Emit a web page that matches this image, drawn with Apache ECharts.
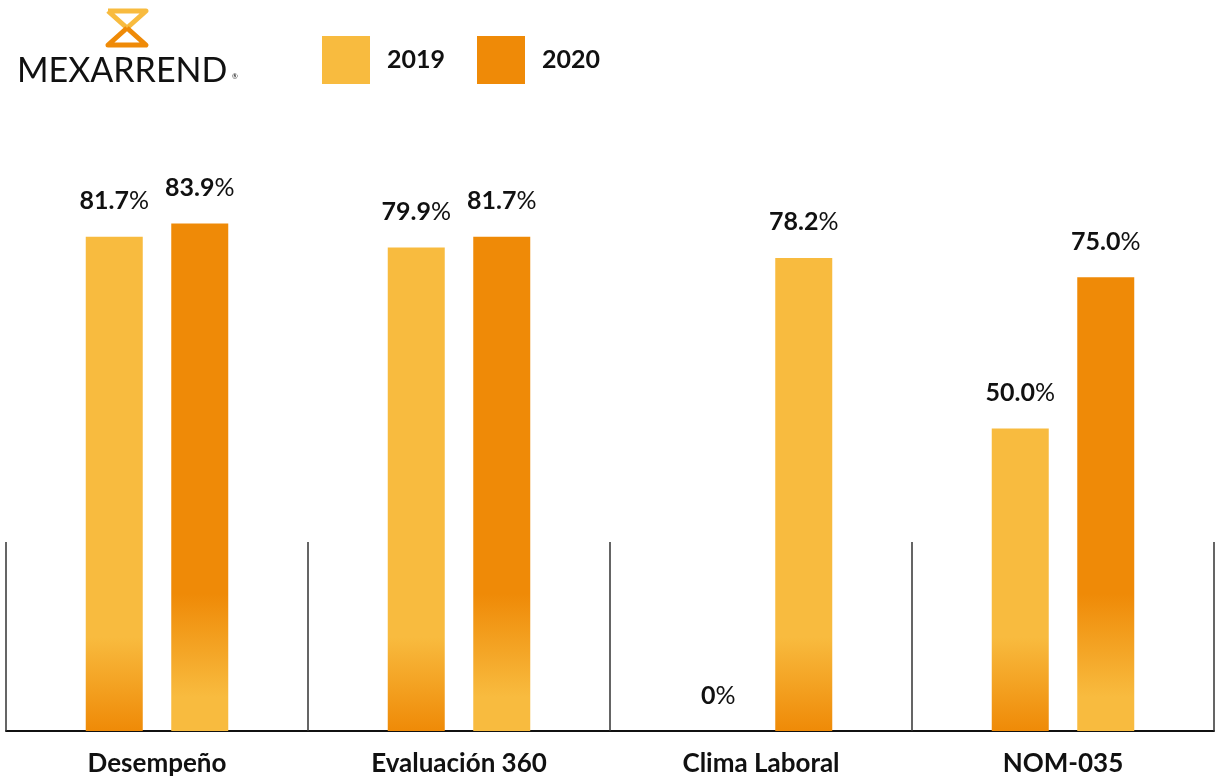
<!DOCTYPE html>
<html>
<head>
<meta charset="utf-8">
<script src="https://cdn.jsdelivr.net/npm/echarts@6/dist/echarts.min.js"></script>
<style>
  html, body { margin: 0; padding: 0; background: #fff; }
  #chart { width: 1232px; height: 780px; }
</style>
</head>
<body>
<div id="chart"></div>
<script>
// datos del gráfico
const categories = ["Desempeño", "Evaluación 360", "Clima Laboral", "NOM-035"];
const values2019 = [81.7, 79.9, 0, 50.0];
const values2020 = [83.9, 81.7, 78.2, 75.0];
const seriesNames = ["2019", "2020"];

const LIGHT = "#f8bb3f";
const ORANGE = "#ef8a07";
const FONT = "Lato";

// degradados en coordenadas globales (pixeles del lienzo)
const grad2019 = new echarts.graphic.LinearGradient(0, 560, 0, 731, [
  { offset: 0, color: LIGHT },
  { offset: 0.45, color: LIGHT },
  { offset: 1, color: ORANGE },
], true);
const grad2020 = new echarts.graphic.LinearGradient(0, 560, 0, 731, [
  { offset: 0, color: ORANGE },
  { offset: 0.2, color: ORANGE },
  { offset: 0.8, color: LIGHT },
  { offset: 1, color: LIGHT },
], true);

const chart = echarts.init(document.getElementById("chart"));

const labelOpt = {
  show: true,
  position: "top",
  distance: 23,
  formatter: (p) => {
    const txt = p.value === 0 ? "0" : p.value.toFixed(1);
    return "{n|" + txt + "}{p|%}";
  },
  rich: {
    n: { fontFamily: FONT, fontWeight: "bold", fontSize: 25, color: "#111" },
    p: { fontFamily: FONT, fontWeight: "normal", fontSize: 25, color: "#111" },
  },
};

const option = {
  backgroundColor: "#fff",
  animation: false,
  grid: { left: 6, right: 18, top: 126, bottom: 49 },
  legend: {
    left: 322,
    top: 36,
    padding: 0,
    itemWidth: 48,
    itemHeight: 48,
    itemGap: 32,
    icon: "rect",
    textStyle: { fontFamily: FONT, fontWeight: "bold", fontSize: 25, color: "#111", padding: [0, 0, 0, 12] },
    data: [
      { name: seriesNames[0], itemStyle: { color: LIGHT } },
      { name: seriesNames[1], itemStyle: { color: ORANGE } },
    ],
  },
  xAxis: {
    type: "category",
    data: categories,
    axisLine: { lineStyle: { color: "#111", width: 2 } },
    axisTick: { show: true, inside: true, length: 189, interval: 0, lineStyle: { color: "#333", width: 1.5 } },
    axisLabel: { margin: 20, fontFamily: FONT, fontWeight: "bold", fontSize: 26, color: "#111" },
  },
  yAxis: {
    type: "value",
    min: 0,
    max: 100,
    show: false,
    splitLine: { show: false },
  },
  graphic: [
    // logo: reloj de arena
    {
      type: "polyline",
      shape: { points: [[108, 11], [146, 11], [127, 28], [108, 11]] },
      style: { stroke: LIGHT, lineWidth: 5, fill: null, lineJoin: "round" },
    },
    {
      type: "polyline",
      shape: { points: [[127, 28], [146, 45], [108, 45], [127, 28]] },
      style: { stroke: ORANGE, lineWidth: 5, fill: null, lineJoin: "round" },
    },
    {
      type: "text",
      left: 17,
      top: 54,
      style: { text: "MEXARREND", fontFamily: FONT, fontSize: 34, fontWeight: "normal", fill: "#111" },
    },
    {
      type: "text",
      left: 232,
      top: 73,
      style: { text: "®", fontFamily: FONT, fontSize: 7, fill: "#111" },
    },
  ],
  series: [
    {
      name: seriesNames[0],
      type: "bar",
      data: values2019,
      barWidth: 57,
      barGap: "50%",
      itemStyle: { color: grad2019 },
      label: labelOpt,
    },
    {
      name: seriesNames[1],
      type: "bar",
      data: values2020.map((v, i) => (i === 2 ? { value: v, itemStyle: { color: grad2019 } } : v)),
      barWidth: 57,
      itemStyle: { color: grad2020 },
      label: labelOpt,
    },
  ],
};

chart.setOption(option);
</script>
</body>
</html>
